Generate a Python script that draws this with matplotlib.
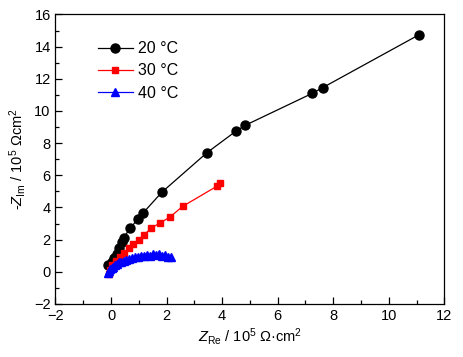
import matplotlib
matplotlib.use("Agg")
import matplotlib.pyplot as plt
from matplotlib.ticker import MultipleLocator

plt.rcParams["font.family"] = ["Liberation Sans", "DejaVu Sans"]
plt.rcParams["mathtext.fontset"] = "custom"
plt.rcParams["mathtext.rm"] = "Liberation Sans"
plt.rcParams["mathtext.it"] = "Liberation Sans:italic"

# 20 C
x20 = [-0.12, 0.05, 0.12, 0.2, 0.3, 0.38, 0.45, 0.68, 0.98, 1.15, 1.83, 3.45, 4.5, 4.82, 7.25, 7.62, 11.1]
y20 = [0.45, 0.6, 0.85, 1.1, 1.5, 1.85, 2.1, 2.7, 3.3, 3.65, 4.95, 7.4, 8.75, 9.1, 11.1, 11.45, 14.75]
# 30 C
x30 = [-0.07, -0.03, 0.05, 0.17, 0.33, 0.48, 0.63, 0.79, 1.0, 1.19, 1.43, 1.77, 2.11, 2.58, 3.82, 3.94]
y30 = [-0.12, 0.1, 0.42, 0.7, 0.95, 1.2, 1.46, 1.75, 2.0, 2.3, 2.7, 3.05, 3.39, 4.07, 5.33, 5.53]
# 40 C
x40 = [-0.12, -0.08, -0.03, 0.02, 0.07, 0.13, 0.2, 0.28, 0.36, 0.45, 0.54, 0.64, 0.74,
       0.85, 0.96, 1.07, 1.18, 1.29, 1.40, 1.51, 1.62, 1.73, 1.84, 1.95, 2.05, 2.15]
y40 = [-0.05, 0.05, 0.15, 0.25, 0.33, 0.42, 0.5, 0.58, 0.64, 0.7, 0.76, 0.82, 0.86,
       0.92, 0.95, 1.0, 0.96, 1.03, 1.0, 1.1, 1.05, 1.12, 1.0, 1.05, 0.92, 0.9]

fig = plt.figure(figsize=(4.64, 3.57), dpi=100)
ax = fig.add_axes([0.1196, 0.1485, 0.8379, 0.8109])

ax.plot(x20, y20, "-o", color="black", lw=0.9, ms=6.5, label="20 °C")
ax.plot(x30, y30, "-s", color="red", lw=0.9, ms=5, label="30 °C")
ax.plot(x40, y40, "-^", color="blue", lw=0.9, ms=5.5, label="40 °C")

ax.set_xlim(-2, 12)
ax.set_ylim(-2, 16)
ax.xaxis.set_major_locator(MultipleLocator(2))
ax.xaxis.set_minor_locator(MultipleLocator(1))
ax.yaxis.set_major_locator(MultipleLocator(2))
ax.yaxis.set_minor_locator(MultipleLocator(1))
ax.tick_params(which="both", direction="in", top=False, right=False, labelsize=10.5)
ax.tick_params(which="major", length=5, width=0.9)
ax.tick_params(which="minor", length=3, width=0.9)
for s in ax.spines.values():
    s.set_linewidth(0.9)

ax.set_xlabel(r"$Z_{\rm Re}$ / 10$^5$ Ω·cm$^2$", fontsize=10.5, labelpad=2)
ax.set_ylabel(r"-$Z_{\rm Im}$ / 10$^5$ Ωcm$^2$", fontsize=10.5, labelpad=4)

ax.legend(loc="upper left", bbox_to_anchor=(0.092, 0.93), frameon=False,
          fontsize=11.5, handlelength=2.2, handletextpad=0.3, labelspacing=0.45,
          borderaxespad=0)

fig.savefig("out.png", dpi=100)
plt.close(fig)
